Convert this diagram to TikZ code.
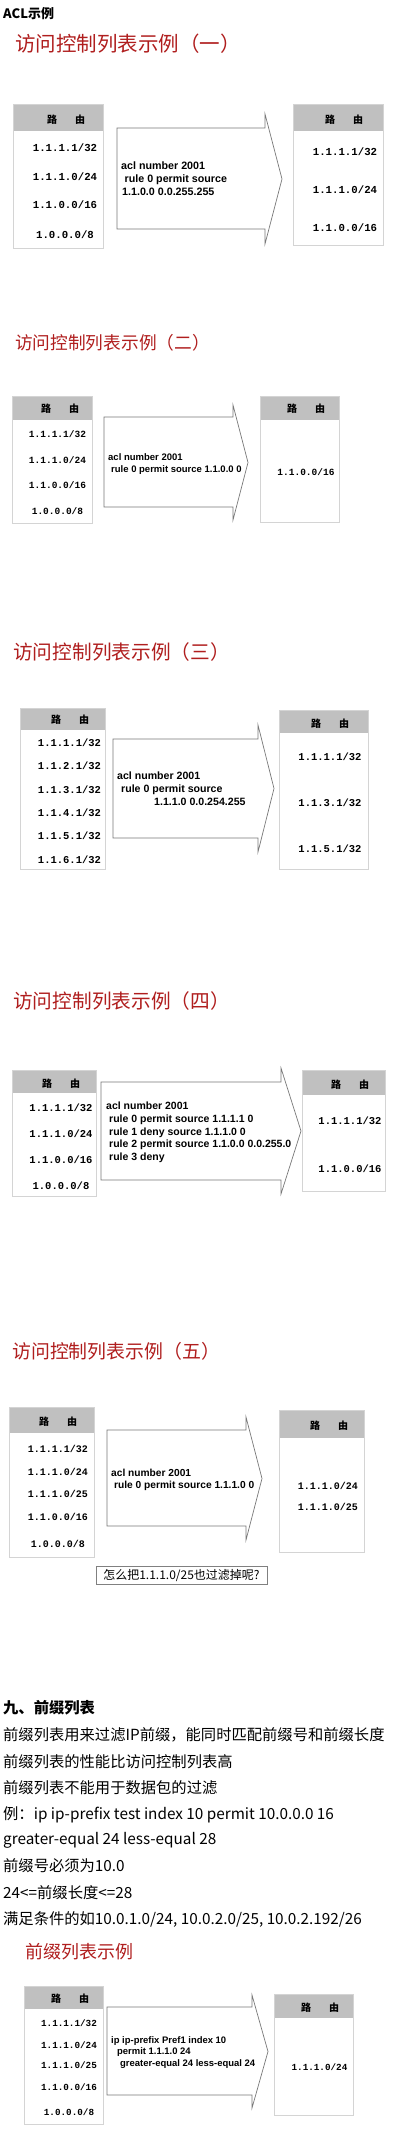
\documentclass[tikz,border=0pt]{standalone}
\usepackage{fontspec}
\setmainfont{Noto Sans CJK SC}
\newfontfamily\cour{Liberation Mono}
\newfontfamily\arl{Liberation Sans}
\definecolor{tblline}{RGB}{212,212,212}
\definecolor{hdrgray}{RGB}{192,192,192}
\definecolor{arrline}{RGB}{120,120,120}
\definecolor{titlered}{RGB}{176,30,30}
\definecolor{boxline}{RGB}{128,128,128}
\tikzset{
  tbl/.style={draw=tblline, line width=0.8pt},
  hdrf/.style={fill=hdrgray},
  arr/.style={draw=arrline, line width=0.7pt, fill=white, line join=miter},
  rt/.style={font=\cour\bfseries\fontsize{#1}{#1}\selectfont, anchor=base, inner sep=0pt},
  ht/.style={font=\bfseries\fontsize{10}{10}\selectfont, anchor=base, inner sep=0pt},
  at/.style={font=\arl\bfseries\fontsize{#1}{#1}\selectfont, anchor=base west, inner sep=0pt},
  ttl/.style={font=\fontsize{#1}{#1}\selectfont, text=titlered, anchor=base west, inner sep=0pt},
  bodytext/.style={font=\fontsize{15.3}{15.3}\selectfont, anchor=base west, inner sep=0pt},
  qbox/.style={draw=boxline, line width=0.7pt, font=\fontsize{12}{12}\selectfont, inner sep=0pt},
}
\newcommand\rtable[5]{%
  \fill[hdrf] (#1,#2) rectangle (#3,#5);
  \draw[tbl] (#1,#2) rectangle (#3,#4);}
\newcommand\aclarrow[7]{%
  \draw[arr] (#1,#4) -- (#2,#4) -- (#2,#6) -- (#3,{(#6+#7)/2}) -- (#2,#7) -- (#2,#5) -- (#1,#5) -- cycle;}
\begin{document}
\begin{tikzpicture}[x=1pt,y=-1pt]
\useasboundingbox (0,0) rectangle (409,2136);
\fill[white] (0,0) rectangle (409,2136);

% ---------- Section 1 ----------
\node[font=\bfseries\fontsize{13}{13}\selectfont, anchor=base west, inner sep=0pt] (acl) at (3,19) {ACL示例};
\node[ttl=20.5] (t1) at (15,51.8) {访问控制列表示例（一）};
\rtable{13}{104}{103}{248}{131}
\node[ht] (h1l) at (66,123.8) {路\hspace{18pt}由};
\node[rt=10.7] (r1l1) at (65,151.2) {1.1.1.1/32};
\node[rt=10.7] (r1l2) at (65,180.2) {1.1.1.0/24};
\node[rt=10.7] (r1l3) at (65,208.2) {1.1.0.0/16};
\node[rt=10.7] (r1l4) at (65,238.2) {1.0.0.0/8};
\aclarrow{117}{265}{282}{128}{229}{114}{244}
\node[at=10.7] (a1a) at (121,169.9) {acl number 2001};
\node[at=10.7] (a1b) at (124.5,182.9) {rule 0 permit source};
\node[at=10.7] (a1c) at (122,195.9) {1.1.0.0 0.0.255.255};
\rtable{293}{104}{383}{245}{131}
\node[ht] (h1r) at (344,123.8) {路\hspace{18pt}由};
\node[rt=10.7] (r1r1) at (345,155.2) {1.1.1.1/32};
\node[rt=10.7] (r1r2) at (345,193.2) {1.1.1.0/24};
\node[rt=10.7] (r1r3) at (345,231.2) {1.1.0.0/16};

% ---------- Section 2 ----------
\node[ttl=17.7] (t2) at (15,349.7) {访问控制列表示例（二）};
\rtable{12}{396}{92}{523}{420}
\node[ht] (h2l) at (60,412.8) {路\hspace{18pt}由};
\node[rt=9.5] (r2l1) at (57.5,437.9) {1.1.1.1/32};
\node[rt=9.5] (r2l2) at (57.5,463.9) {1.1.1.0/24};
\node[rt=9.5] (r2l3) at (57.5,488.9) {1.1.0.0/16};
\node[rt=9.5] (r2l4) at (57.5,514.9) {1.0.0.0/8};
\aclarrow{104}{233}{248}{417}{507}{405}{520}
\node[at=9.5] (a2a) at (108,460.4) {acl number 2001};
\node[at=9.5] (a2b) at (111,472.4) {rule 0 permit source 1.1.0.0 0};
\rtable{260}{396}{339}{522}{420}
\node[ht] (h2r) at (306,412.8) {路\hspace{18pt}由};
\node[rt=9.5] (r2r1) at (306,475.9) {1.1.0.0/16};

% ---------- Section 3 ----------
\node[ttl=19.7] (t3) at (13,659.5) {访问控制列表示例（三）};
\rtable{20}{708}{105}{869}{730}
\node[ht] (h3l) at (70,723.8) {路\hspace{18pt}由};
\node[rt=10.5] (r3l1) at (69.5,746.2) {1.1.1.1/32};
\node[rt=10.5] (r3l2) at (69.5,769.2) {1.1.2.1/32};
\node[rt=10.5] (r3l3) at (69.5,793.2) {1.1.3.1/32};
\node[rt=10.5] (r3l4) at (69.5,816.2) {1.1.4.1/32};
\node[rt=10.5] (r3l5) at (69.5,839.2) {1.1.5.1/32};
\node[rt=10.5] (r3l6) at (69.5,863.2) {1.1.6.1/32};
\aclarrow{113}{258}{274}{739}{838}{725}{852}
\node[at=10.6] (a3a) at (117,779.8) {acl number 2001};
\node[at=10.6] (a3b) at (121,792.8) {rule 0 permit source};
\node[at=10.6] (a3c) at (154,805.8) {1.1.1.0 0.0.254.255};
\rtable{279}{710}{368}{869}{733}
\node[ht] (h3r) at (330,727.8) {路\hspace{18pt}由};
\node[rt=10.5] (r3r1) at (330,760.2) {1.1.1.1/32};
\node[rt=10.5] (r3r2) at (330,806.2) {1.1.3.1/32};
\node[rt=10.5] (r3r3) at (330,852.2) {1.1.5.1/32};

% ---------- Section 4 ----------
\node[ttl=19.7] (t4) at (13,1008.5) {访问控制列表示例（四）};
\rtable{12}{1070}{96}{1196}{1093}
\node[ht] (h4l) at (61,1087.8) {路\hspace{18pt}由};
\node[rt=10.5] (r4l1) at (61,1111.2) {1.1.1.1/32};
\node[rt=10.5] (r4l2) at (61,1137.2) {1.1.1.0/24};
\node[rt=10.5] (r4l3) at (61,1163.2) {1.1.0.0/16};
\node[rt=10.5] (r4l4) at (61,1189.2) {1.0.0.0/8};
\aclarrow{101}{281}{301}{1082}{1180}{1068}{1194}
\node[at=10.5] (a4a) at (106,1109.8) {acl number 2001};
\node[at=10.5] (a4b) at (109,1122.5) {rule 0 permit source 1.1.1.1 0};
\node[at=10.5] (a4c) at (109,1135.2) {rule 1 deny source 1.1.1.0 0};
\node[at=10.5] (a4d) at (109,1147.9) {rule 2 permit source 1.1.0.0 0.0.255.0};
\node[at=10.5] (a4e) at (109,1160.6) {rule 3 deny};
\rtable{302}{1070}{385}{1191}{1095}
\node[ht] (h4r) at (350,1088.8) {路\hspace{18pt}由};
\node[rt=10.5] (r4r1) at (350,1124.2) {1.1.1.1/32};
\node[rt=10.5] (r4r2) at (350,1172.2) {1.1.0.0/16};

% ---------- Section 5 ----------
\node[ttl=18.9] (t5) at (12,1358.2) {访问控制列表示例（五）};
\rtable{9}{1407}{94}{1557}{1433}
\node[ht] (h5l) at (58,1425.8) {路\hspace{18pt}由};
\node[rt=10] (r5l1) at (58,1452) {1.1.1.1/32};
\node[rt=10] (r5l2) at (58,1475) {1.1.1.0/24};
\node[rt=10] (r5l3) at (58,1497) {1.1.1.0/25};
\node[rt=10] (r5l4) at (58,1520) {1.1.0.0/16};
\node[rt=10] (r5l5) at (58,1547) {1.0.0.0/8};
\aclarrow{107}{246}{262}{1430}{1526}{1417}{1540}
\node[at=10.2] (a5a) at (111,1476.7) {acl number 2001};
\node[at=10.2] (a5b) at (114,1488.7) {rule 0 permit source 1.1.1.0 0};
\rtable{279}{1410}{364}{1552}{1438}
\node[ht] (h5r) at (329,1429.8) {路\hspace{18pt}由};
\node[rt=10] (r5r1) at (328,1489) {1.1.1.0/24};
\node[rt=10] (r5r2) at (328,1510) {1.1.1.0/25};
\node[qbox, minimum width=171pt, minimum height=18pt] (q5) at (181.5,1575) {怎么把1.1.1.0/25也过滤掉呢?};

% ---------- Section 9 text ----------
\node[font=\bfseries\fontsize{15.3}{15.3}\selectfont, anchor=base west, inner sep=0pt] (h9) at (3,1713.8) {九、前缀列表};
\node[bodytext] (b1) at (3,1740.8) {前缀列表用来过滤IP前缀，能同时匹配前缀号和前缀长度};
\node[bodytext] (b2) at (3,1767.8) {前缀列表的性能比访问控制列表高};
\node[bodytext] (b3) at (3,1793.8) {前缀列表不能用于数据包的过滤};
\node[bodytext] (b4) at (3,1819.8) {例：ip ip-prefix test index 10 permit 10.0.0.0 16};
\node[bodytext] (b5) at (3,1844.8) {greater-equal 24 less-equal 28};
\node[bodytext] (b6) at (3,1871.8) {前缀号必须为10.0};
\node[bodytext] (b7) at (3,1898.8) {24<=前缀长度<=28};
\node[bodytext] (b8) at (3,1924.8) {满足条件的如10.0.1.0/24, 10.0.2.0/25, 10.0.2.192/26};

% ---------- Prefix list example ----------
\node[ttl=18] (t6) at (25,1958.8) {前缀列表示例};
\rtable{24}{1986}{103}{2124}{2009}
\node[ht] (h6l) at (70,2002.8) {路\hspace{18pt}由};
\node[rt=9.3] (r6l1) at (69,2026.8) {1.1.1.1/32};
\node[rt=9.3] (r6l2) at (69,2048.8) {1.1.1.0/24};
\node[rt=9.3] (r6l3) at (69,2068.8) {1.1.1.0/25};
\node[rt=9.3] (r6l4) at (69,2090.8) {1.1.0.0/16};
\node[rt=9.3] (r6l5) at (69,2115.8) {1.0.0.0/8};
\aclarrow{107}{252}{268}{2007}{2095}{1995}{2108}
\node[at=9.45] (a6a) at (111,2043.4) {ip ip-prefix Pref1 index 10};
\node[at=9.45] (a6b) at (117,2054.4) {permit 1.1.1.0 24};
\node[at=9.45] (a6c) at (120,2066.4) {greater-equal 24 less-equal 24};
\rtable{274}{1994}{353}{2115}{2018}
\node[ht] (h6r) at (320,2011.8) {路\hspace{18pt}由};
\node[rt=9.3] (r6r1) at (319.5,2070.8) {1.1.1.0/24};
\end{tikzpicture}
\end{document}
